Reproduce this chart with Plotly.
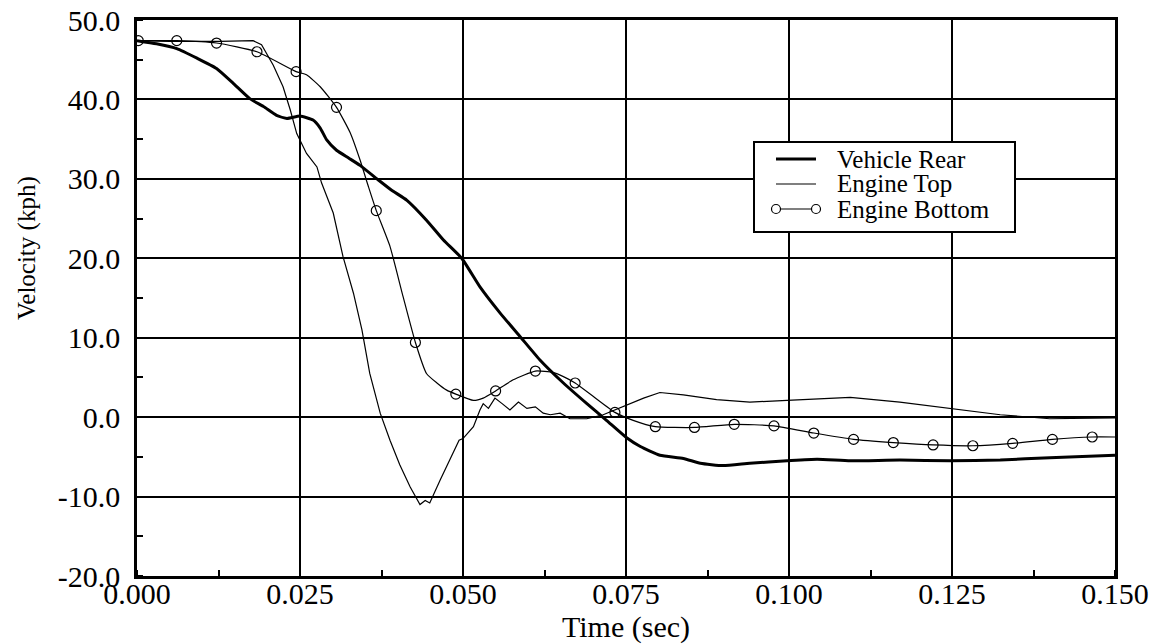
import plotly.graph_objects as go

# ---------------- data ----------------
rear_t = [0.0, 0.003, 0.0061, 0.0092, 0.0122, 0.0148, 0.0173, 0.0194, 0.0214, 0.023, 0.025, 0.027,
          0.0281, 0.0291, 0.0306, 0.0325, 0.0342, 0.0368, 0.039, 0.0414, 0.0444, 0.047, 0.0498,
          0.0526, 0.0557, 0.0588, 0.0618, 0.0654, 0.069, 0.072, 0.0751, 0.0772, 0.0802, 0.0838,
          0.0864, 0.0899, 0.094, 0.0997, 0.1043, 0.1094, 0.117, 0.1247, 0.1324, 0.14, 0.15]
rear_v = [47.4, 47.0, 46.4, 45.2, 43.9, 42.0, 40.1, 39.1, 38.0, 37.6, 37.9, 37.4,
          36.4, 34.9, 33.6, 32.6, 31.7, 30.0, 28.6, 27.3, 24.8, 22.3, 20.0,
          16.4, 13.1, 10.1, 7.2, 4.3, 1.7, -0.4, -2.6, -3.7, -4.8, -5.2,
          -5.8, -6.1, -5.8, -5.5, -5.3, -5.5, -5.4, -5.5, -5.4, -5.1, -4.8]

top_t = [0.0, 0.005, 0.0127, 0.0178, 0.0191, 0.0199, 0.0209, 0.0224, 0.0235, 0.0245, 0.026, 0.0276,
         0.0283, 0.0301, 0.0316, 0.0332, 0.0345, 0.0357, 0.0373, 0.0388, 0.0403, 0.0419, 0.0434,
         0.0442, 0.0449, 0.0465, 0.048, 0.0494, 0.05, 0.0516, 0.0526, 0.0531, 0.0539, 0.0549,
         0.056, 0.0572, 0.0585, 0.0598, 0.0611, 0.0623, 0.0634, 0.0649, 0.0664, 0.069, 0.0715,
         0.0746, 0.0777, 0.0802, 0.0838, 0.0889, 0.094, 0.0997, 0.1094, 0.117, 0.1247, 0.1324,
         0.14, 0.15]
top_v = [47.4, 47.3, 47.3, 47.4, 46.9, 45.8, 44.3, 41.6, 38.7, 35.7, 33.2, 31.5,
         29.5, 25.7, 20.2, 15.6, 11.0, 5.5, 0.5, -2.9, -6.0, -8.8, -11.0,
         -10.5, -10.8, -7.9, -5.4, -2.9, -2.7, -1.2, 0.9, 1.7, 1.1, 2.4,
         1.7, 0.9, 1.9, 1.1, 1.3, 0.5, 0.3, 0.5, -0.2, -0.2, 0.3,
         1.3, 2.4, 3.1, 2.8, 2.2, 1.9, 2.1, 2.5, 1.9, 1.1, 0.3,
         -0.2, -0.1]

bottom_t = [0.0, 0.0061, 0.0122, 0.0184, 0.0244, 0.026, 0.0281, 0.0306, 0.0327, 0.0342, 0.0355,
            0.0367, 0.0388, 0.0408, 0.0427, 0.0444, 0.046, 0.0475, 0.0489, 0.0516, 0.0531, 0.055,
            0.0577, 0.0611, 0.0639, 0.0654, 0.0672, 0.07, 0.0733, 0.0761, 0.0795, 0.0855, 0.0916,
            0.0977, 0.1038, 0.1099, 0.116, 0.1221, 0.1282, 0.1343, 0.1404, 0.1465, 0.15]
bottom_v = [47.4, 47.4, 47.1, 46.0, 43.5, 43.1, 41.6, 39.0, 35.8, 32.4, 29.0,
            26.0, 21.5, 15.2, 9.4, 5.5, 4.3, 3.4, 2.9, 2.1, 2.4, 3.3,
            4.7, 5.8, 5.6, 5.1, 4.3, 2.6, 0.6, -0.4, -1.2, -1.3, -0.9,
            -1.1, -2.0, -2.8, -3.2, -3.5, -3.6, -3.3, -2.8, -2.5, -2.5]

mark_t = [0.0002, 0.0061, 0.0122, 0.0184, 0.0244, 0.0306, 0.0367, 0.0427, 0.0489, 0.055, 0.0611,
          0.0672, 0.0733, 0.0795, 0.0855, 0.0916, 0.0977, 0.1038, 0.1099, 0.116, 0.1221, 0.1282,
          0.1343, 0.1404, 0.1465]
mark_v = [47.4, 47.4, 47.1, 46.0, 43.5, 39.0, 26.0, 9.4, 2.9, 3.3, 5.8,
          4.3, 0.6, -1.2, -1.3, -0.9, -1.1, -2.0, -2.8, -3.2, -3.5, -3.6,
          -3.3, -2.8, -2.5]

series_names = ["Vehicle Rear", "Engine Top", "Engine Bottom"]
x_ticks = [0.0, 0.025, 0.05, 0.075, 0.1, 0.125, 0.15]
x_ticktext = ["0.000", "0.025", "0.050", "0.075", "0.100", "0.125", "0.150"]
y_ticks = [-20, -10, 0, 10, 20, 30, 40, 50]
y_ticktext = ["-20.0", "-10.0", "0.0", "10.0", "20.0", "30.0", "40.0", "50.0"]
x_title = "Time (sec)"
y_title = "Velocity (kph)"

FONT = "Liberation Serif, Times New Roman, serif"

fig = go.Figure()
fig.add_trace(go.Scatter(x=rear_t, y=rear_v, mode="lines", name=series_names[0],
                         line=dict(color="black", width=3, shape="spline", smoothing=0.5),
                         showlegend=False))
fig.add_trace(go.Scatter(x=top_t, y=top_v, mode="lines", name=series_names[1],
                         line=dict(color="black", width=1.2), showlegend=False))
fig.add_trace(go.Scatter(x=bottom_t, y=bottom_v, mode="lines", name=series_names[2],
                         line=dict(color="black", width=1.2, shape="spline", smoothing=0.5),
                         showlegend=False))
fig.add_trace(go.Scatter(x=mark_t, y=mark_v, mode="markers", name=series_names[2],
                         marker=dict(symbol="circle-open", size=10, color="black",
                                     line=dict(width=1.2, color="black")),
                         showlegend=False))

# plot-area geometry in pixels (for manual legend / titles)
W, H = 1152, 644
L, R, T, B = 137, 37, 20, 68
PW, PH = W - L - R, H - T - B


def px(x):
    return (x - L) / PW


def py(y):
    return 1 - (y - T) / PH


shapes = [dict(type="rect", xref="paper", yref="paper", x0=px(754), x1=px(1015), y0=py(142), y1=py(232),
               fillcolor="white", line=dict(color="black", width=2), layer="above")]
rows = [159, 184, 209]
widths = [3, 1.2, 1.2]
for yy, w in zip(rows, widths):
    shapes.append(dict(type="line", xref="paper", yref="paper", x0=px(776), x1=px(816),
                       y0=py(yy), y1=py(yy), line=dict(color="black", width=w), layer="above"))
for cx in (776, 816):
    shapes.append(dict(type="circle", xref="paper", yref="paper", x0=px(cx - 4.5), x1=px(cx + 4.5),
                       y0=py(rows[2] - 4.5), y1=py(rows[2] + 4.5), fillcolor="white",
                       line=dict(color="black", width=1.2), layer="above"))

annotations = []
for yy, name in zip(rows, series_names):
    annotations.append(dict(xref="paper", yref="paper", x=px(836), y=py(yy), text=name, showarrow=False,
                            xanchor="left", yanchor="middle", borderpad=0,
                            font=dict(family=FONT, size=25, color="black")))
annotations.append(dict(xref="paper", yref="paper", x=0.5, y=py(627), text=x_title, showarrow=False,
                        xanchor="center", yanchor="middle", borderpad=0,
                        font=dict(family=FONT, size=30, color="black")))
annotations.append(dict(xref="paper", yref="paper", x=px(27), y=py(248), text=y_title, showarrow=False,
                        textangle=-90, xanchor="center", yanchor="middle", borderpad=0,
                        font=dict(family=FONT, size=25, color="black")))

axis_common = dict(showgrid=True, gridcolor="black", gridwidth=2.4, showline=True, linecolor="black",
                   linewidth=2.5, mirror=True, ticks="", zeroline=False, automargin=False,
                   tickfont=dict(family=FONT, size=30, color="black"))

fig.update_layout(
    width=W, height=H, margin=dict(l=L, r=R, t=T, b=B, autoexpand=False),
    plot_bgcolor="white", paper_bgcolor="white",
    shapes=shapes, annotations=annotations,
    xaxis=dict(range=[0, 0.15], tickvals=x_ticks, ticktext=x_ticktext,
               minor=dict(dtick=0.0125, ticks="inside", ticklen=6, tickwidth=1.5, tickcolor="black",
                          showgrid=False),
               ticklabelstandoff=-11, **axis_common),
    yaxis=dict(range=[-20, 50], tickvals=y_ticks, ticktext=y_ticktext,
               minor=dict(dtick=5, ticks="inside", ticklen=6, tickwidth=1.5, tickcolor="black",
                          showgrid=False),
               ticklabelstandoff=8, **axis_common),
)

fig.write_html("out.html")
